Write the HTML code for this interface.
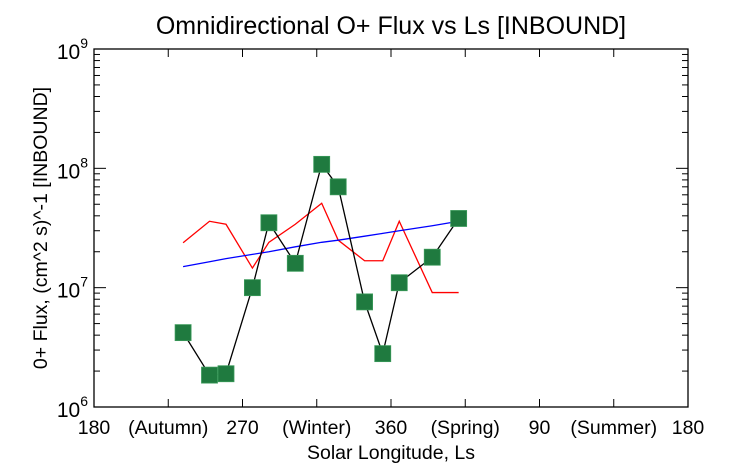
<!DOCTYPE html>
<html><head><meta charset="utf-8"><style>
body{margin:0;background:#fff;}
svg text{font-family:"Liberation Sans",sans-serif;fill:#000;}
</style></head><body>
<svg width="742" height="464" xmlns="http://www.w3.org/2000/svg">
<text x="391" y="34" font-size="25" text-anchor="middle">Omnidirectional O+ Flux vs Ls [INBOUND]</text>
<g id="axes"></g>
<g id="series"></g>
<text x="391" y="459" font-size="19.5" text-anchor="middle">Solar Longitude, Ls</text>
<text transform="translate(47,228) rotate(-90)" font-size="19.5" text-anchor="middle">0+ Flux, (cm^2 s)^-1 [INBOUND]</text>
</svg>
<script>
const lsValues=[234,250,260,276,286,302,318,328,344,355,365,385,401];
const fluxValues=[4.2e6,1.85e6,1.9e6,1.0e7,3.5e7,1.6e7,1.08e8,7.0e7,7.6e6,2.8e6,1.1e7,1.8e7,3.8e7];
const redValues=[2.38e7,3.6e7,3.4e7,1.46e7,2.4e7,3.4e7,5.1e7,2.5e7,1.68e7,1.68e7,3.6e7,9.1e6,9.1e6];
const blueValues=[1.5e7,1.65e7,1.75e7,1.9e7,2.0e7,2.2e7,2.4e7,2.5e7,2.7e7,2.85e7,3.0e7,3.3e7,3.6e7];
const xTickLabels=["180","(Autumn)","270","(Winter)","360","(Spring)","90","(Summer)","180"];
const yDecades=[6,7,8,9];
const NS="http://www.w3.org/2000/svg";
const L=94,R=688,T=49,B=407;
const xs=v=>L+(v-180)*(R-L)/360;
const ys=v=>B-(Math.log10(v)-6)*(B-T)/3;
function mk(tag,attrs,parent){const e=document.createElementNS(NS,tag);for(const k in attrs)e.setAttribute(k,attrs[k]);parent.appendChild(e);return e;}
const ax=document.getElementById('axes');
let fr=mk('rect',{x:L,y:T,width:R-L,height:B-T,fill:'none',stroke:'#000','stroke-width':1.3},ax);


for(let i=0;i<=8;i++){const x=L+i*(R-L)/8;
 mk('line',{x1:x,x2:x,y1:B,y2:B-8,stroke:'#000'},ax);mk('line',{x1:x,x2:x,y1:T,y2:T+8,stroke:'#000'},ax);
 const t=mk('text',{x:x,y:434,'font-size':19.5,'text-anchor':'middle'},ax);t.textContent=xTickLabels[i];
 
 }
for(const d of yDecades){for(let m=1;m<10;m++){if(d===9&&m>1)break;const y=ys(m*Math.pow(10,d));const len=m===1?12:6;
 mk('line',{x1:L,x2:L+len,y1:y,y2:y,stroke:'#000'},ax);mk('line',{x1:R,x2:R-len,y1:y,y2:y,stroke:'#000'},ax);}
 const t=mk('text',{x:88,y:ys(Math.pow(10,d))+10,'font-size':21,'text-anchor':'end'},ax);
 
 
 t.innerHTML='10<tspan dy="-11" font-size="14">'+d+'</tspan>';}
const sg=document.getElementById('series');
function line(vals,color,name){const p=mk('polyline',{points:vals.map((v,i)=>xs(lsValues[i])+','+ys(v)).join(' '),fill:'none',stroke:color,'stroke-width':1.3},sg);
 
 }
line(redValues,'#ff0000','red-line');
line(blueValues,'#0000ff','blue-fit-line');
line(fluxValues,'#000','flux-line');
fluxValues.forEach((v,i)=>{const r=mk('rect',{x:xs(lsValues[i])-8,y:ys(v)-8,width:16,height:16,fill:'#1f7a3f',stroke:'#3a9a5a','stroke-width':0.8},sg);
 
 });
</script>
</body></html>
